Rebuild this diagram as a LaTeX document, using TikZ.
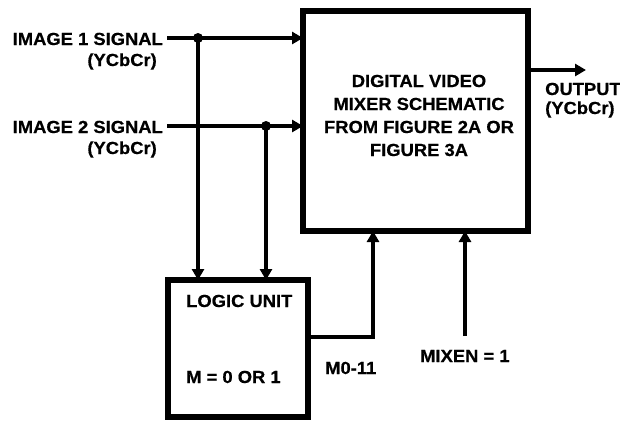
\documentclass[tikz,border=0pt]{standalone}
\usepackage{fontspec}
\setmainfont{Liberation Sans}[FakeStretch=1.05,FakeBold=0.6]
\usetikzlibrary{arrows.meta}
\begin{document}
\begin{tikzpicture}[x=1pt,y=-1pt,
  box/.style={draw,line width=6pt,inner sep=0pt,outer sep=0pt},
  conn/.style={line width=3.3pt},
  arr/.style={conn,-{Triangle[length=11pt,width=12pt]}},
  lbl/.style={inner sep=0pt,font=\fontsize{17.5}{20}\selectfont\bfseries},
  dot/.style={circle,fill,inner sep=0pt,minimum size=10pt}]
\useasboundingbox (0,0) rectangle (620,421);
% boxes
\node[box,minimum width=225pt,minimum height=220pt] (main) at (415.5,121) {};
\node[box,minimum width=140pt,minimum height=137pt] (logic) at (237.5,348.5) {};
% main text
\node[lbl,anchor=base] (t1) at (419,87) {DIGITAL VIDEO};
\node[lbl,anchor=base] (t2) at (419,110) {MIXER SCHEMATIC};
\node[lbl,anchor=base] (t3) at (419,133) {FROM FIGURE 2A OR};
\node[lbl,anchor=base] (t4) at (419,156) {FIGURE 3A};
% logic text
\node[lbl,anchor=base west] (l1) at (186,307) {LOGIC UNIT};
\node[lbl,anchor=base west] (l2) at (186,383) {M = 0 OR 1};
% input labels
\node[lbl,anchor=base east] (i1) at (163,45) {IMAGE 1 SIGNAL};
\node[lbl,anchor=base east] (i1b) at (157,66) {(YCbCr)};
\node[lbl,anchor=base east] (i2) at (163,133) {IMAGE 2 SIGNAL};
\node[lbl,anchor=base east] (i2b) at (157,154) {(YCbCr)};
% output labels
\node[lbl,anchor=base west] (o1) at (545,95) {OUTPUT};
\node[lbl,anchor=base west] (o2) at (545,114) {(YCbCr)};
% bottom labels
\node[lbl,anchor=base west] (m0l) at (325,374) {M0-11};
\node[lbl,anchor=base west] (mxl) at (420,362) {MIXEN = 1};
% coordinates
\coordinate (in1) at (167,38);
\coordinate (in2) at (167,126);
\coordinate (j1) at (198,38);
\coordinate (j2) at (266,126);
\coordinate (out) at (586,70);
\coordinate (m0) at (373,337);
\coordinate (mx) at (465,336);
% connectors
\draw[arr] (in1) -- (in1 -| main.west);
\draw[arr] (in2) -- (in2 -| main.west);
\draw[arr] (j1) -- (j1 |- logic.north);
\draw[arr] (j2) -- (j2 |- logic.north);
\node[dot] (d1) at (j1) {};
\node[dot] (d2) at (j2) {};
\draw[arr] (main.east |- out) -- (out);
\draw[arr] (logic.east |- m0) -| (main.south -| m0);
\draw[arr] (mx) -- (main.south -| mx);
\end{tikzpicture}
\end{document}
